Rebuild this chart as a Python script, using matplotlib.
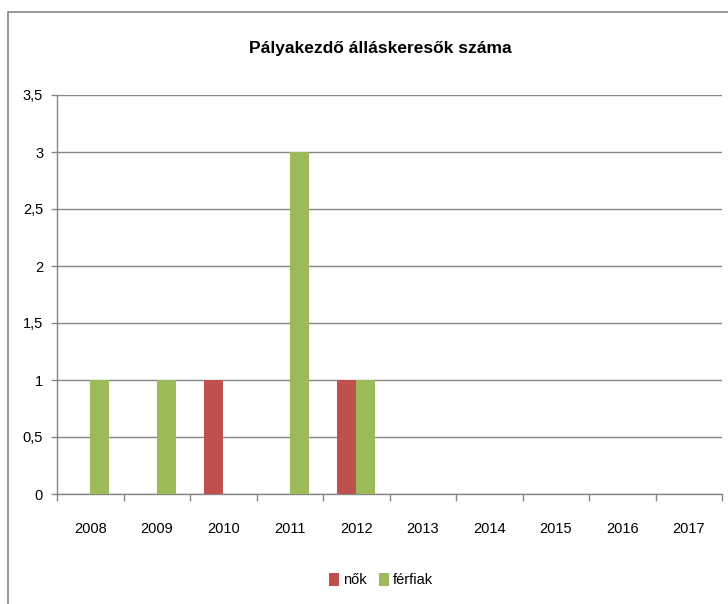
import matplotlib
matplotlib.use("Agg")
import matplotlib.pyplot as plt
import numpy as np
from matplotlib.ticker import FuncFormatter, FixedLocator
from matplotlib.patches import Rectangle

categories = ["2008", "2009", "2010", "2011", "2012", "2013", "2014", "2015", "2016", "2017"]
nok = [0, 0, 1, 0, 1, 0, 0, 0, 0, 0]
ferfiak = [1, 1, 0, 3, 1, 0, 0, 0, 0, 0]
title = "Pályakezdő álláskeresők száma"

plt.rcParams['font.family'] = ['Liberation Sans', 'DejaVu Sans']

fig = plt.figure(figsize=(7.28, 6.04), dpi=100)
ax = fig.add_axes([57/728, 1-494/604, 665/728, 399/604])

x = np.arange(len(categories))
w = 1/3.5
ax.bar(x - w/2, nok, width=w, color="#C0504D", label="nők", zorder=3)
ax.bar(x + w/2, ferfiak, width=w, color="#9BBB59", label="férfiak", zorder=3)

ax.set_xlim(-0.5, len(categories) - 0.5)
ax.set_ylim(0, 3.5)
ax.set_yticks(np.arange(0, 3.51, 0.5))
ax.yaxis.set_major_formatter(FuncFormatter(lambda v, p: ("%g" % v).replace(".", ",")))
ax.yaxis.grid(True, color="#868686", linewidth=1, zorder=0)
ax.set_axisbelow(True)

ax.set_xticks(x)
ax.set_xticklabels(categories)
ax.xaxis.set_minor_locator(FixedLocator(np.arange(-0.5, len(categories), 1.0)))
ax.tick_params(axis='x', which='major', length=0, pad=20, labelsize=10.5)
ax.tick_params(axis='x', which='minor', length=5, color="#868686", width=1)
ax.tick_params(axis='y', length=4, color="#868686", width=1, labelsize=10.5, pad=6)

for s in ["top", "right"]:
    ax.spines[s].set_visible(False)
for s in ["left", "bottom"]:
    ax.spines[s].set_color("#868686")
    ax.spines[s].set_linewidth(1)

fig.text(380/728, 1-48/604, title, ha="center", va="center", fontsize=12.5, fontweight="bold")

leg = fig.legend(loc="center", bbox_to_anchor=(381/728, 1-580/604), ncol=2, frameon=False,
                 fontsize=10.5, handlelength=0.7, handleheight=1.0, handletextpad=0.3, columnspacing=0.8)

fig.patches.append(Rectangle((8/728, -0.1), 1.2, 1 - 12/604 + 0.1, transform=fig.transFigure,
                             fill=False, edgecolor="#888888", linewidth=1.2))

fig.savefig("out.png", dpi=100)
